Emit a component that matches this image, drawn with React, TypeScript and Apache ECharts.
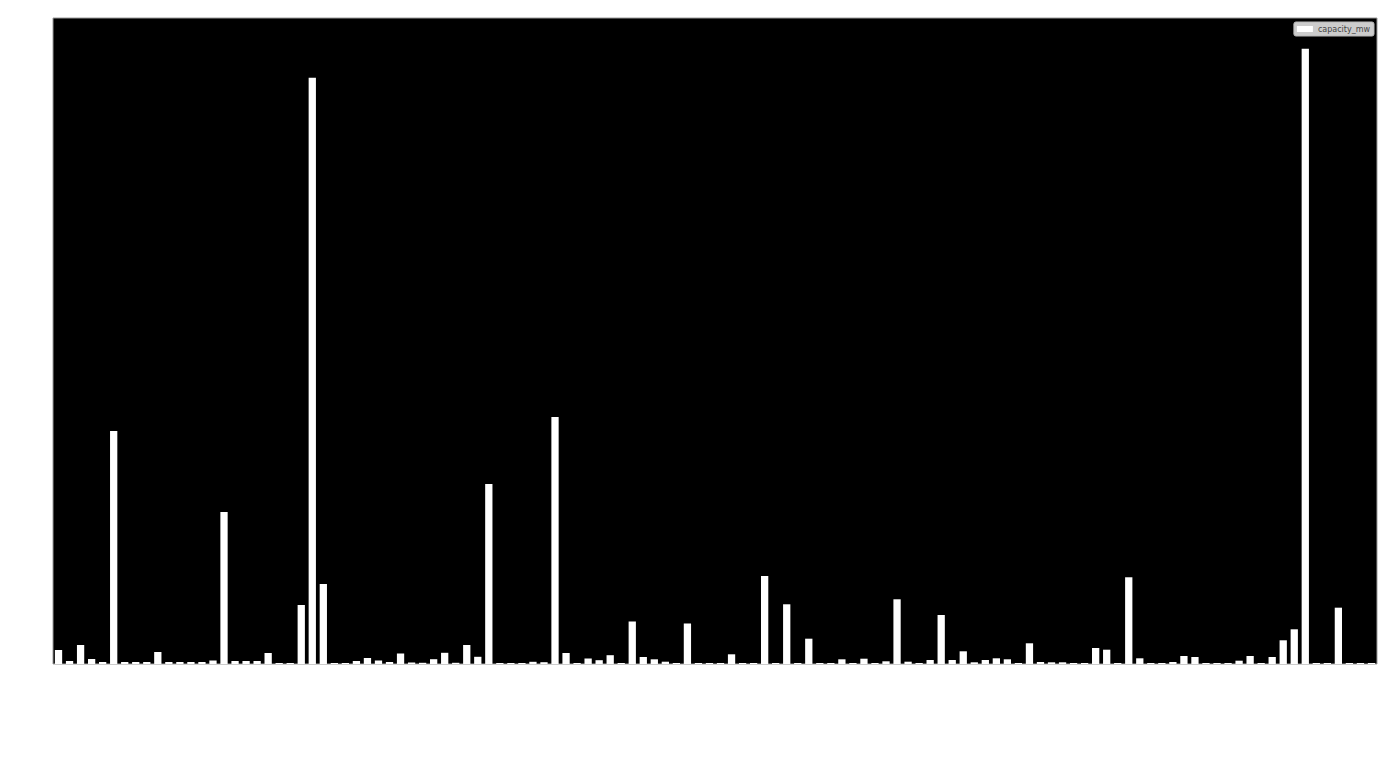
import React, { useEffect, useRef } from "react";
import * as echarts from "echarts";

// capacity values (MW), one per plant
const capacityMw: number[] = [
  140, 30, 190, 50, 20, 2330, 20, 20, 20, 120,
  20, 20, 20, 20, 35, 1520, 30, 30, 30, 110,
  10, 10, 590, 5860, 800, 10, 10, 30, 60, 35,
  20, 105, 15, 12, 48, 112, 12, 190, 72, 1800,
  10, 10, 10, 22, 18, 2470, 110, 10, 55, 38,
  88, 10, 425, 70, 47, 23, 10, 405, 10, 10,
  10, 97, 10, 10, 880, 10, 597, 10, 253, 10,
  10, 47, 10, 53, 10, 27, 647, 23, 10, 40,
  490, 40, 127, 17, 40, 57, 47, 10, 207, 20,
  17, 17, 10, 10, 160, 143, 10, 867, 57, 10,
  10, 20, 80, 70, 10, 10, 10, 33, 80, 10,
  70, 237, 347, 6150, 10, 10, 563, 10, 10, 10,
];

// category labels (row index of each plant)
const categories: string[] = capacityMw.map((_, i) => String(i));

const seriesName = "capacity_mw";
const yMax = 6458;

export default function App() {
  const ref = useRef<HTMLDivElement>(null);

  useEffect(() => {
    if (!ref.current) return;
    const chart = echarts.init(ref.current, undefined, { renderer: "svg" });
    chart.setOption({
      animation: false,
      backgroundColor: "#ffffff",
      grid: {
        left: 53,
        top: 18,
        right: 6,
        bottom: 118,
        show: true,
        backgroundColor: "#000000",
        borderColor: "#9a9a9a",
        borderWidth: 1,
      },
      legend: {
        show: true,
        right: 9,
        top: 22,
        backgroundColor: "#cccccc",
        borderColor: "#b8b8b8",
        borderWidth: 1,
        borderRadius: 2,
        padding: [3, 4, 3, 3],
        itemWidth: 16,
        itemHeight: 6,
        itemGap: 6,
        icon: "rect",
        textStyle: {
          fontSize: 8,
          color: "#444444",
          fontFamily: "DejaVu Sans",
        },
        data: [seriesName],
      },
      xAxis: {
        type: "category",
        data: categories,
        boundaryGap: true,
        axisLine: { show: false },
        axisTick: { show: false },
        axisLabel: { show: false },
        splitLine: { show: false },
      },
      yAxis: {
        type: "value",
        min: 0,
        max: yMax,
        axisLine: { show: false },
        axisTick: { show: false },
        axisLabel: { show: false },
        splitLine: { show: false },
      },
      series: [
        {
          name: seriesName,
          type: "bar",
          data: capacityMw,
          barWidth: "66%",
          itemStyle: { color: "#ffffff" },
        },
      ],
    });
    return () => chart.dispose();
  }, []);

  return (
    <div
      ref={ref}
      style={{ position: "fixed", left: 0, top: 0, width: 1383, height: 782 }}
    />
  );
}
